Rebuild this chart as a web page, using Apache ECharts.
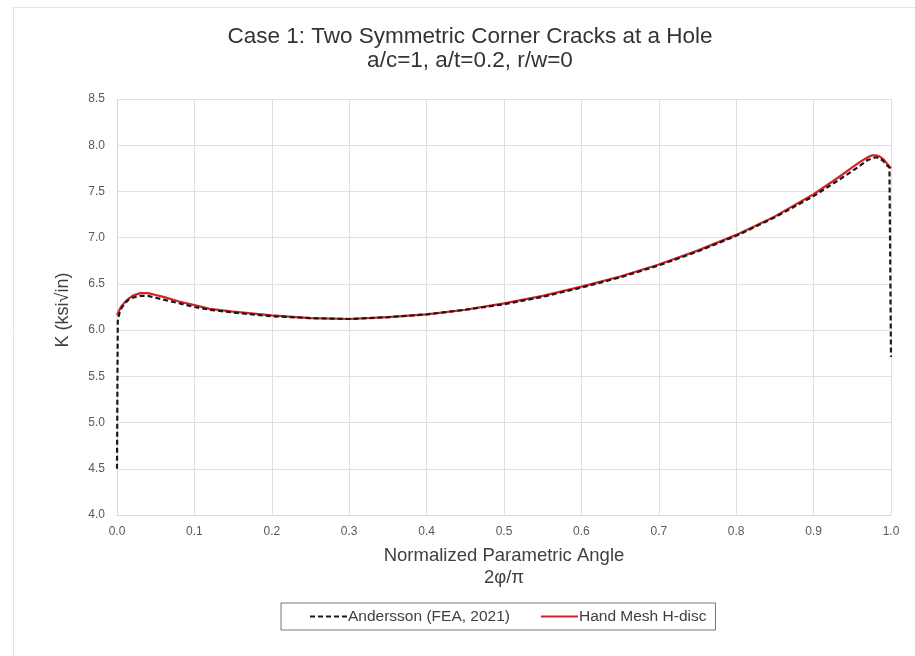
<!DOCTYPE html>
<html>
<head>
<meta charset="utf-8">
<script src="https://cdn.jsdelivr.net/npm/echarts@6/dist/echarts.min.js"></script>
<style>html,body{margin:0;padding:0;background:#fff}#c{width:915px;height:656px}</style>
</head>
<body>
<div id="c"></div>
<script>
const seriesNames = ['Andersson (FEA, 2021)', 'Hand Mesh H-disc'];
const anderssonX = [0, 0.001, 0.003, 0.006, 0.01, 0.015, 0.02, 0.03, 0.04, 0.05, 0.06, 0.08, 0.1, 0.12, 0.15, 0.2, 0.25, 0.3, 0.35, 0.4, 0.45, 0.5, 0.55, 0.6, 0.65, 0.7, 0.75, 0.8, 0.85, 0.9, 0.93, 0.95, 0.96, 0.97, 0.98, 0.985, 0.99, 0.995, 0.998, 1.0];
const anderssonK = [4.50, 6.10, 6.18, 6.24, 6.29, 6.33, 6.35, 6.37, 6.37, 6.35, 6.33, 6.29, 6.25, 6.22, 6.19, 6.15, 6.13, 6.12, 6.14, 6.17, 6.22, 6.28, 6.36, 6.46, 6.57, 6.70, 6.85, 7.02, 7.22, 7.45, 7.61, 7.72, 7.78, 7.84, 7.87, 7.86, 7.83, 7.78, 7.76, 5.71];
const handX = [0, 0.005, 0.01, 0.015, 0.02, 0.03, 0.04, 0.05, 0.06, 0.08, 0.1, 0.12, 0.15, 0.2, 0.25, 0.3, 0.35, 0.4, 0.45, 0.5, 0.55, 0.6, 0.65, 0.7, 0.75, 0.8, 0.85, 0.9, 0.93, 0.95, 0.96, 0.97, 0.975, 0.98, 0.985, 0.99, 0.995, 1.0];
const handK = [6.16, 6.25, 6.30, 6.34, 6.37, 6.40, 6.40, 6.38, 6.36, 6.31, 6.27, 6.23, 6.20, 6.16, 6.13, 6.12, 6.14, 6.17, 6.22, 6.29, 6.37, 6.47, 6.58, 6.71, 6.86, 7.03, 7.23, 7.47, 7.64, 7.76, 7.82, 7.87, 7.89, 7.89, 7.88, 7.85, 7.80, 7.75];

const zip = (xs, ys) => xs.map((x, i) => [x, ys[i]]);
const chart = echarts.init(document.getElementById('c'));
const tickFont = {fontFamily: 'Liberation Sans', fontSize: 12, color: '#595959'};
chart.setOption({
  animation: false,
  backgroundColor: '#fff',
  title: {
    text: 'Case 1: Two Symmetric Corner Cracks at a Hole\na/c=1, a/t=0.2, r/w=0',
    left: 465, textAlign: 'center', top: 20,
    textStyle: {fontFamily: 'Liberation Sans', fontSize: 22.5, fontWeight: 'normal', color: '#333', lineHeight: 24}
  },
  graphic: [
    {type: 'rect', shape: {x: 13.5, y: 7.5, width: 1000, height: 1000}, style: {fill: 'none', stroke: '#e3e3e3', lineWidth: 1}, silent: true},
    {type: 'text', x: 63, y: 310, rotation: Math.PI / 2, silent: true,
     style: {text: 'K (ksi√in)', fontFamily: 'Liberation Sans', fontSize: 18, fill: '#404040', align: 'center', verticalAlign: 'middle'}}
  ],
  legend: {
    left: 281, top: 603,
    padding: [5, 9, 5, 28],
    borderColor: '#777', borderWidth: 1,
    itemWidth: 37, itemHeight: 17, itemGap: 30,
    itemStyle: {opacity: 0},
    textStyle: {fontFamily: 'Liberation Sans', fontSize: 15.5, color: '#404040', padding: [0, 0, 0, -4], lineHeight: 17},
    data: seriesNames
  },
  grid: {left: 117, right: 24, top: 99, bottom: 141, containLabel: false},
  xAxis: {
    type: 'value', min: 0, max: 1, interval: 0.1,
    name: 'Normalized Parametric Angle\n2φ/π', nameLocation: 'middle', nameGap: 30,
    nameTextStyle: {fontFamily: 'Liberation Sans', fontSize: 18.5, color: '#404040', lineHeight: 22},
    axisLine: {lineStyle: {color: '#d9d9d9'}}, axisTick: {show: false},
    axisLabel: Object.assign({margin: 11, formatter: v => v.toFixed(1)}, tickFont),
    splitLine: {show: true, lineStyle: {color: '#e0e0e0'}}
  },
  yAxis: {
    type: 'value', min: 4, max: 8.5, interval: 0.5,
    axisLine: {show: true, lineStyle: {color: '#d9d9d9'}}, axisTick: {show: false},
    axisLabel: Object.assign({margin: 12, formatter: v => v.toFixed(1)}, tickFont),
    splitLine: {show: true, lineStyle: {color: '#e0e0e0'}}
  },
  series: [
    {name: seriesNames[0], type: 'line', data: zip(anderssonX, anderssonK), showSymbol: false, symbol: 'none', z: 3,
     lineStyle: {color: '#1a1a1a', width: 2.2, type: [5, 3]}, itemStyle: {color: '#1a1a1a'}},
    {name: seriesNames[1], type: 'line', data: zip(handX, handK), showSymbol: false, symbol: 'none', z: 2,
     lineStyle: {color: '#d92027', width: 2.2}, itemStyle: {color: '#d92027'}}
  ]
});
</script>
</body>
</html>
